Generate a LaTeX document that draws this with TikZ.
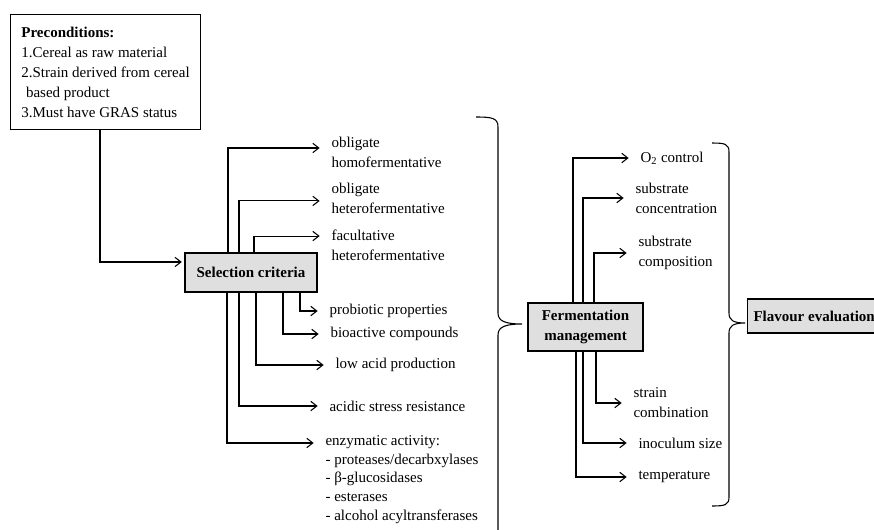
\documentclass[tikz,border=0pt]{standalone}
\usepackage{fontspec}
\setmainfont{Liberation Serif}
\usetikzlibrary{arrows.meta,calc}

\tikzset{
  item/.style={anchor=west, inner sep=0pt, align=left, font=\fontsize{11.25}{15}\selectfont},
  box/.style={draw, fill=gray!25, font=\fontsize{11.25}{15}\selectfont\bfseries},
  arr/.style={-{Straight Barb[length=4.5pt,width=7pt]}, shorten >=8.5pt},
}

\begin{document}
\begin{tikzpicture}[x=0.75pt, y=-0.75pt, line width=0.8pt]
    \useasboundingbox (0,0) rectangle (874,529);
    \clip (0,0) rectangle (874,529);

    % Boxes
    \node[draw, align=left, anchor=north west, minimum width=142.5pt, minimum height=86.25pt,
          font=\fontsize{11.25}{15}\selectfont] (pre) at (10,14)
        {\textbf{Preconditions:}\\1.Cereal as raw material\\2.Strain derived from cereal\\\hspace*{3.5pt}based product\\3.Must have GRAS status};
    \node[box, minimum width=99pt, minimum height=29.25pt] (sel) at (251,272.5) {Selection criteria};
    \node[box, align=center, minimum width=86.25pt, minimum height=36pt] (ferm) at (585.5,327) {Fermentation\\management};
    \node[box, anchor=west, inner xsep=4.5pt, minimum height=25.5pt] (flav) at (747,316) {Flavour evaluation};

    \draw[arr, shorten >=2pt] (pre.south -| 100,0) |- ([yshift=7.9pt]sel.west);

    % Selection criteria items
    \node[item] (homo) at (331,152.5) {obligate\\homofermentative};
    \node[item] (ohet) at (331,198) {obligate\\heterofermentative};
    \node[item] (facu) at (331,245.5) {facultative\\heterofermentative};
    \node[item] (prob) at (329,311) {probiotic properties};
    \node[item] (bioa) at (330,334) {bioactive compounds};
    \node[item] (lowa) at (335,365) {low acid production};
    \node[item] (acid) at (329,406) {acidic stress resistance};
    \node[item, font=\fontsize{11.25}{14}\selectfont] (enzy) at (325,479.5)
        {enzymatic activity:\\- proteases/decarbxylases\\- β-glucosidases\\- esterases\\- alcohol acyltransferases};

    \foreach \x/\nm/\dy in {228/homo/3.4, 239/ohet/-2.2, 254/facu/7.1}
        \draw[arr] (sel.north -| \x,0) |- ([yshift=\dy*1pt]\nm.west);
    \foreach \x/\nm/\dy in {300/prob/0, 283/bioa/0, 256/lowa/0, 239/acid/0, 227/enzy/27.4}
        \draw[arr] (sel.south -| \x,0) |- ([yshift=\dy*1pt]\nm.west);

    % Fermentation management items
    \node[item] (otwo) at (640,158) {O\textsubscript{2} control};
    \node[item] (sconc) at (635,198) {substrate\\concentration};
    \node[item] (scomp) at (638,253) {substrate\\composition};
    \node[item] (strn) at (633,403) {strain\\combination};
    \node[item] (inoc) at (638,443) {inoculum size};
    \node[item] (temp) at (638,477) {temperature};

    \foreach \x/\nm in {573/otwo, 583/sconc, 594/scomp}
        \draw[arr] (ferm.north -| \x,0) |- (\nm.west);
    \foreach \x/\nm in {596/strn, 583/inoc, 576/temp}
        \draw[arr] (ferm.south -| \x,0) |- (\nm.west);

    % Braces
    \draw (476,117) .. controls (492,117) and (498,118) .. (498,127) -- (498,313)
        .. controls (498,321) and (505,324) .. (522,324)
        .. controls (505,324) and (498,327) .. (498,335) -- (498,540);
    \draw (712,143) .. controls (725,143) and (729,144) .. (729,152) -- (729,313)
        .. controls (729,320) and (733,323) .. (745,323)
        .. controls (733,323) and (729,326) .. (729,333) -- (729,497)
        .. controls (729,505) and (725,506) .. (712,506);
\end{tikzpicture}
\end{document}
